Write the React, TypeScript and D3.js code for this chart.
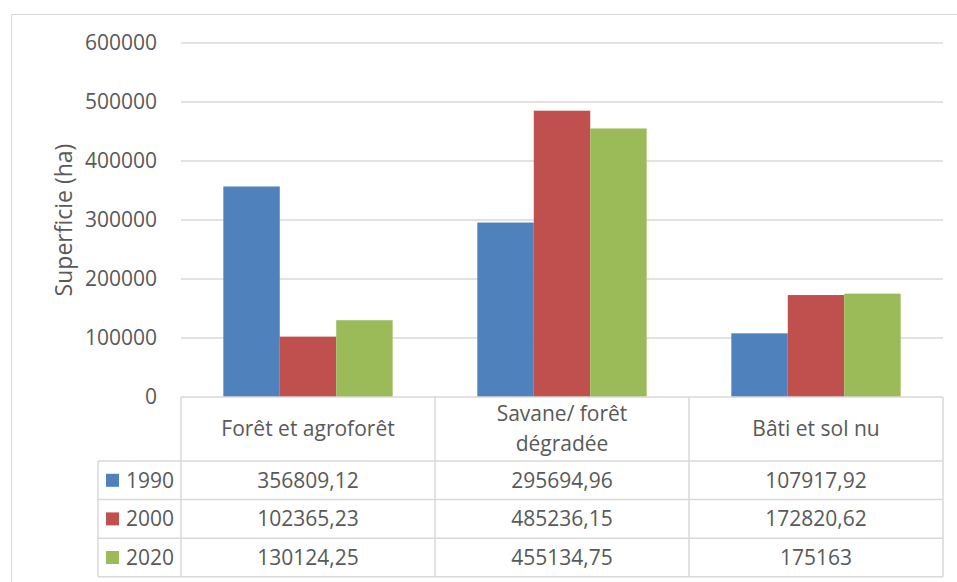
import React from "react";
import * as d3 from "d3";

const categories = ["Forêt et agroforêt", "Savane/ forêt dégradée", "Bâti et sol nu"];
const categoryLines = [["Forêt et agroforêt"], ["Savane/ forêt", "dégradée"], ["Bâti et sol nu"]];
const seriesNames = ["1990", "2000", "2020"];
const values1990 = [356809.12, 295694.96, 107917.92];
const values2000 = [102365.23, 485236.15, 172820.62];
const values2020 = [130124.25, 455134.75, 175163];
const tableLabels1990 = ["356809,12", "295694,96", "107917,92"];
const tableLabels2000 = ["102365,23", "485236,15", "172820,62"];
const tableLabels2020 = ["130124,25", "455134,75", "175163"];
const yTicks = [0, 100000, 200000, 300000, 400000, 500000, 600000];
const colors = ["#4F81BD", "#C0504D", "#9BBB59"];

const W = 957;
const H = 582;
const FONT = "'Open Sans', Lato, sans-serif";
const TXT = "#595959";
const GRID = "#D9D9D9";
const FS = 21;

export default function App() {
  const series = [values1990, values2000, values2020];
  const labels = [tableLabels1990, tableLabels2000, tableLabels2020];
  const plotLeft = 181;
  const plotRight = 943;
  const plotTop = 43;
  const plotBottom = 397;
  const x = d3.scaleBand<string>().domain(categories).range([plotLeft, plotRight]).paddingInner(0).paddingOuter(0);
  const inner = d3
    .scaleBand<string>()
    .domain(seriesNames)
    .range([0, x.bandwidth()])
    .paddingInner(0)
    .paddingOuter(0.75);
  const y = d3.scaleLinear().domain([0, 600000]).range([plotBottom, plotTop]);

  const headerBottom = 461;
  const rowH = 38.6;
  const rowTops = [headerBottom, headerBottom + rowH, headerBottom + 2 * rowH];
  const tableBottom = headerBottom + 3 * rowH;
  const legendLeft = 98;

  return (
    <svg
      width={W}
      height={H}
      style={{ position: "absolute", left: 0, top: 0, background: "#fff" }}
      fontFamily={FONT}
    >
      <rect x={0} y={0} width={W} height={H} fill="#fff" />
      {/* outer frame */}
      <line x1={11.5} y1={14.5} x2={W} y2={14.5} stroke={GRID} strokeWidth={1} />
      <line x1={11.5} y1={14.5} x2={11.5} y2={H} stroke={GRID} strokeWidth={1} />

      {/* gridlines */}
      {yTicks.slice(1).map((t) => (
        <line key={t} x1={plotLeft} x2={plotRight} y1={y(t)} y2={y(t)} stroke={GRID} strokeWidth={1.3} />
      ))}
      {/* tick labels */}
      {yTicks.map((t) => (
        <text key={t} x={157} y={y(t)} dy="0.35em" textAnchor="end" fontSize={FS} fill={TXT}>
          {t}
        </text>
      ))}
      {/* axis title */}
      <text
        transform={`translate(64,${(plotTop + plotBottom) / 2}) rotate(-90)`}
        textAnchor="middle"
        dy="0.35em"
        fontSize={23}
        fill={TXT}
      >
        Superficie (ha)
      </text>

      {/* bars */}
      {categories.map((c, ci) =>
        seriesNames.map((s, si) => (
          <rect
            key={c + s}
            x={(x(c) as number) + (inner(s) as number)}
            y={y(series[si][ci])}
            width={inner.bandwidth()}
            height={plotBottom - y(series[si][ci])}
            fill={colors[si]}
          />
        ))
      )}

      {/* data table */}
      <g stroke={GRID} strokeWidth={1.5}>
        <line x1={plotLeft} x2={plotRight} y1={plotBottom} y2={plotBottom} />
        <line x1={legendLeft} x2={plotRight} y1={headerBottom} y2={headerBottom} />
        {rowTops.slice(1).map((r) => (
          <line key={r} x1={legendLeft} x2={plotRight} y1={r} y2={r} />
        ))}
        <line x1={legendLeft} x2={plotRight} y1={tableBottom} y2={tableBottom} />
        <line x1={legendLeft} x2={legendLeft} y1={headerBottom} y2={tableBottom} />
        {[plotLeft, ...categories.map((c) => (x(c) as number) + x.bandwidth())].map((xx) => (
          <line key={xx} x1={xx} x2={xx} y1={plotBottom} y2={tableBottom} />
        ))}
      </g>
      {categories.map((c, ci) => {
        const cx = (x(c) as number) + x.bandwidth() / 2;
        const lines = categoryLines[ci];
        const mid = (plotBottom + headerBottom) / 2;
        const lh = 30;
        return (
          <text key={c} x={cx} textAnchor="middle" fontSize={FS} fill={TXT}>
            {lines.map((l, li) => (
              <tspan key={li} x={cx} y={mid + (li - (lines.length - 1) / 2) * lh} dy="0.35em">
                {l}
              </tspan>
            ))}
          </text>
        );
      })}
      {seriesNames.map((s, si) => {
        const cy = rowTops[si] + rowH / 2;
        return (
          <g key={s}>
            <rect x={106} y={cy - 6.5} width={13} height={13} fill={colors[si]} />
            <text x={126} y={cy} dy="0.35em" fontSize={FS} fill={TXT}>
              {s}
            </text>
            {categories.map((c, ci) => (
              <text
                key={c}
                x={(x(c) as number) + x.bandwidth() / 2}
                y={cy}
                dy="0.35em"
                textAnchor="middle"
                fontSize={FS}
                fill={TXT}
              >
                {labels[si][ci]}
              </text>
            ))}
          </g>
        );
      })}
    </svg>
  );
}
